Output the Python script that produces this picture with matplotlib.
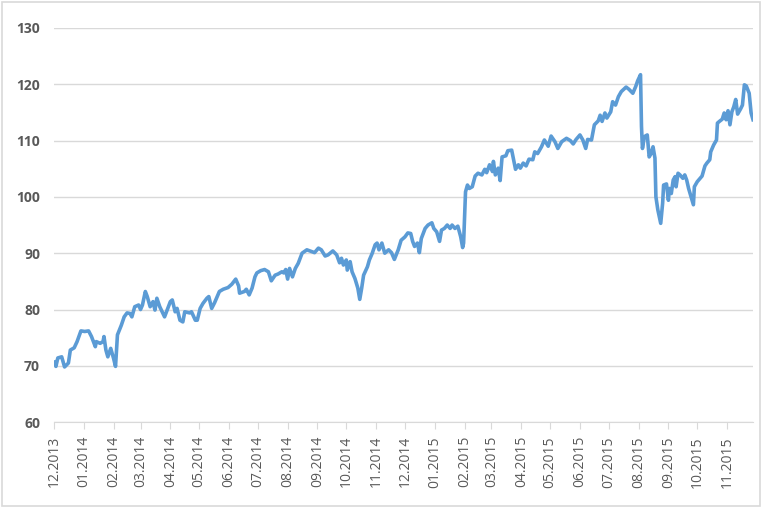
import pandas as pd
import matplotlib
matplotlib.use("Agg")
import matplotlib.pyplot as plt
import matplotlib.dates as mdates
from matplotlib.patches import Rectangle

# days after 2013-12-01
day_offsets = [
    1, 2, 4, 8, 11, 15, 17, 21, 24, 28, 32, 36, 39, 43, 44, 48, 51, 52, 54, 56,
    59, 62, 64, 66, 70, 73, 76, 79, 81, 84, 88, 90, 92, 95, 97, 100, 103, 105, 107, 110,
    115, 121, 123, 126, 128, 131, 134, 136, 141, 143, 147, 149, 152, 155, 159, 161, 164, 167, 172, 176,
    181, 185, 189, 192, 193, 198, 200, 203, 206, 209, 211, 215, 219, 223, 226, 230, 233, 237, 239, 241,
    243, 245, 248, 251, 254, 258, 263, 268, 271, 275, 278, 282, 285, 290, 294, 297, 299, 301, 304, 305,
    308, 310, 313, 316, 318, 320, 322, 326, 328, 331, 334, 336, 338, 341, 344, 348, 351, 354, 358, 361,
    365, 368, 371, 373, 375, 378, 380, 382, 386, 389, 393, 395, 398, 401, 403, 406, 409, 412, 414, 417,
    420, 423, 425, 426, 428, 430, 432, 435, 438, 441, 445, 448, 450, 453, 456, 457, 459, 462, 464, 466,
    470, 472, 476, 478, 480, 483, 485, 488, 491, 494, 498, 500, 503, 507, 510, 514, 517, 521, 524, 528,
    533, 537, 540, 543, 547, 550, 553, 555, 559, 562, 566, 568, 570, 573, 575, 579, 581, 584, 587, 590,
    595, 598, 602, 605, 607, 610, 611, 612, 614, 617, 619, 621, 623, 625, 626, 628, 631, 633, 634, 637,
    639, 640, 642, 644, 646, 647, 649, 651, 654, 656, 658, 660, 663, 665, 666, 669, 672, 674, 677, 679,
    682, 683, 686, 689, 690, 692, 695, 697, 699, 701, 703, 705, 707, 709, 711, 714, 716, 718, 720, 723,
    725, 727,
]

values = [
    70.7, 69.9, 71.4, 71.6, 69.8, 70.5, 72.8, 73.2, 74.3, 76.2, 76.1, 76.2, 75.2, 73.4, 74.3, 74.0, 74.3, 75.2, 72.8, 71.6,
    73.1, 71.3, 69.9, 75.5, 77.2, 78.7, 79.4, 79.3, 78.7, 80.5, 80.8, 80.0, 80.8, 83.2, 82.3, 80.5, 81.4, 79.9, 82.0, 80.5,
    78.7, 81.4, 81.7, 79.6, 80.2, 78.1, 77.8, 79.6, 79.4, 79.6, 78.1, 78.1, 80.2, 81.1, 82.0, 82.3, 80.2, 81.2, 83.2, 83.6,
    83.9, 84.5, 85.4, 84.2, 82.9, 83.2, 83.6, 82.6, 83.8, 85.8, 86.5, 86.9, 87.1, 86.7, 85.1, 86.1, 86.3, 86.7, 86.5, 87.1,
    85.4, 87.3, 85.8, 87.3, 88.2, 90.0, 90.6, 90.3, 90.1, 90.9, 90.6, 89.5, 89.7, 90.4, 89.7, 88.3, 89.1, 87.9, 88.8, 87.0,
    88.5, 86.7, 85.5, 83.8, 81.8, 83.8, 86.1, 87.6, 88.8, 90.0, 91.5, 91.8, 90.6, 91.8, 90.0, 90.6, 90.1, 88.9, 90.6, 92.3,
    92.9, 93.6, 93.5, 92.1, 91.2, 91.8, 90.1, 92.6, 94.4, 95.0, 95.4, 94.4, 93.8, 92.1, 94.1, 94.4, 95.0, 94.4, 95.0, 94.4,
    94.8, 92.9, 91.0, 91.8, 100.9, 102.1, 101.5, 101.8, 103.7, 104.2, 103.9, 104.9, 104.3, 105.7, 104.5, 106.3, 103.9, 105.1, 102.9, 107.1,
    107.3, 108.2, 108.3, 106.6, 104.9, 105.7, 105.1, 106.0, 105.5, 106.7, 106.6, 108.0, 107.7, 108.9, 110.1, 109.0, 110.8, 109.8, 108.6, 109.8,
    110.4, 110.0, 109.4, 110.2, 111.0, 110.1, 108.6, 110.2, 110.1, 112.8, 113.5, 114.5, 113.4, 114.9, 114.0, 115.1, 116.9, 116.3, 117.8, 118.7,
    119.5, 119.1, 118.4, 119.6, 120.6, 121.7, 112.5, 108.6, 110.7, 111.0, 107.1, 107.7, 108.9, 106.9, 100.0, 97.7, 95.3, 98.9, 102.1, 102.3,
    99.4, 101.5, 100.6, 103.0, 103.6, 101.8, 104.2, 103.9, 103.3, 103.9, 103.0, 101.5, 99.8, 98.6, 101.8, 102.7, 103.3, 103.7, 105.5, 106.0,
    106.6, 108.0, 109.2, 110.1, 113.1, 113.4, 113.8, 114.9, 113.7, 115.3, 112.8, 115.1, 116.0, 117.3, 114.7, 115.6, 116.3, 119.9, 119.7, 118.4,
    114.9, 113.7,
]

start = pd.Timestamp("2013-12-01")
dates = start + pd.to_timedelta(day_offsets, unit="D")
month_ticks = pd.date_range("2013-12-01", "2015-11-01", freq="MS")
y_ticks = [60, 70, 80, 90, 100, 110, 120, 130]

text_color = "#595959"
grid_color = "#d9d9d9"

fig = plt.figure(figsize=(7.68, 5.08), dpi=100)
ax = fig.add_axes([0.0703, 0.169, 0.9102, 0.776])

ax.plot(dates, values, color="#5b9bd5", linewidth=2.6, solid_joinstyle="round")

ax.set_ylim(60, 130)
ax.set_xlim(start, dates[-1])
ax.set_yticks(y_ticks)
ax.set_xticks(month_ticks)
ax.xaxis.set_major_formatter(mdates.DateFormatter("%m.%Y"))

ax.grid(axis="y", color=grid_color, linewidth=1)
ax.set_axisbelow(True)
for side in ["left", "right", "top"]:
    ax.spines[side].set_visible(False)
ax.spines["bottom"].set_color(grid_color)

ax.tick_params(axis="y", length=0, pad=10, labelcolor=text_color)
ax.tick_params(axis="x", length=5, color=grid_color, pad=5, labelcolor=text_color)
for lab in ax.get_yticklabels():
    lab.set_fontfamily("Open Sans")
    lab.set_fontweight("bold")
    lab.set_fontsize(10)
for lab in ax.get_xticklabels():
    lab.set_fontfamily("Open Sans")
    lab.set_fontsize(10)
    lab.set_rotation(90)

fig.patches.append(Rectangle((0.003, 0.004), 0.987, 0.992, transform=fig.transFigure,
                             fill=False, edgecolor=grid_color, linewidth=1.2))

fig.savefig("out.png", dpi=100)
